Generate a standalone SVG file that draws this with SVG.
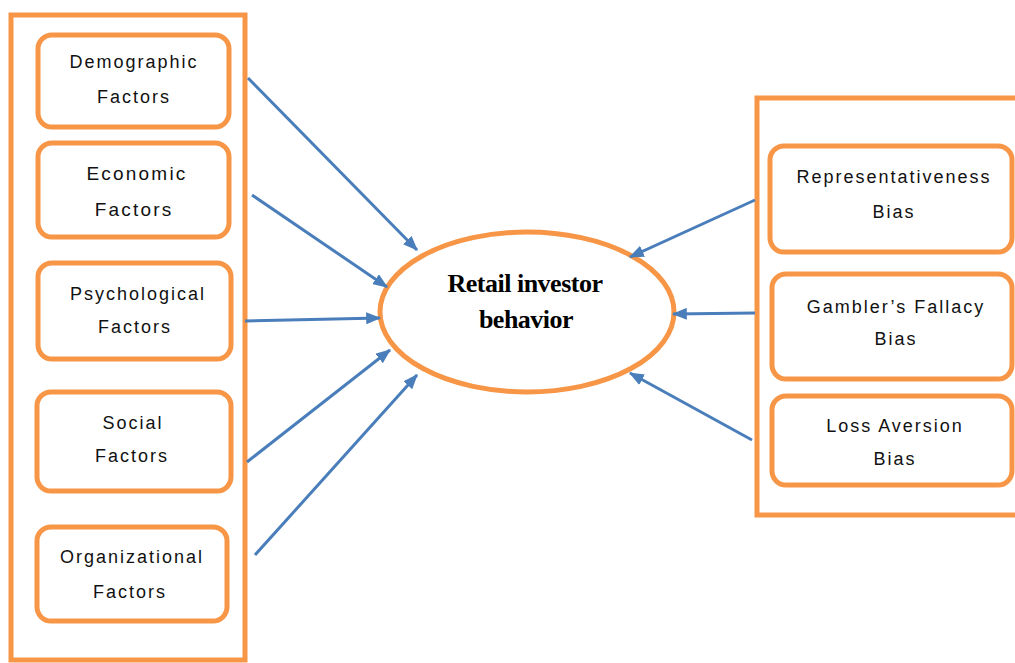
<svg xmlns="http://www.w3.org/2000/svg" width="1015" height="663" viewBox="0 0 1015 663">
<defs>
<style>
.outer{fill:#fff;stroke:#f79646;stroke-width:5}
.box{fill:#fff;stroke:#f79646;stroke-width:5}
.lbl{font-family:"Liberation Sans",Arial,sans-serif;font-size:18px;letter-spacing:2px;fill:#111;text-anchor:middle}
.ctr{font-family:"Liberation Serif","Times New Roman",serif;font-size:26px;font-weight:bold;letter-spacing:-0.5px;fill:#000;text-anchor:middle}
.arr{stroke:#4a7ebb;stroke-width:3;fill:none;marker-end:url(#ah)}
</style>
<marker id="ah" markerWidth="5" markerHeight="4" refX="4.6" refY="2" orient="auto" markerUnits="strokeWidth">
<path d="M0,0 L5,2 L0,4 z" fill="#4a7ebb"/>
</marker>
</defs>
<rect width="1015" height="663" fill="#fff"/>
<rect id="left-group" class="outer" x="11" y="15" width="234" height="645"/>
<rect id="right-group" class="outer" x="757" y="98" width="270" height="417"/>
<g id="demographic">
<rect class="box" x="38" y="35" width="191" height="92" rx="14"/>
<text class="lbl" x="134" y="68">Demographic</text>
<text class="lbl" x="134" y="103">Factors</text>
</g>
<g id="economic">
<rect class="box" x="38" y="143" width="191" height="94" rx="14"/>
<text class="lbl" x="137" y="180" style="font-size:19px;letter-spacing:2.2px">Economic</text>
<text class="lbl" x="134" y="216" style="font-size:19px;letter-spacing:2.2px">Factors</text>
</g>
<g id="psychological">
<rect class="box" x="38" y="263" width="193" height="96" rx="14"/>
<text class="lbl" x="138" y="300">Psychological</text>
<text class="lbl" x="135" y="333">Factors</text>
</g>
<g id="social">
<rect class="box" x="37" y="392" width="194" height="99" rx="14"/>
<text class="lbl" x="133" y="429">Social</text>
<text class="lbl" x="132" y="462">Factors</text>
</g>
<g id="organizational">
<rect class="box" x="37" y="527" width="190" height="94" rx="14"/>
<text class="lbl" x="132" y="563">Organizational</text>
<text class="lbl" x="130" y="598">Factors</text>
</g>
<g id="retail-investor-behavior">
<ellipse cx="527" cy="312" rx="147" ry="80" fill="#fff" stroke="#f79646" stroke-width="5"/>
<text class="ctr" x="525" y="292">Retail investor</text>
<text class="ctr" x="526" y="328">behavior</text>
</g>
<g id="representativeness">
<rect class="box" x="770" y="146" width="242" height="106" rx="14"/>
<text class="lbl" x="894" y="183">Representativeness</text>
<text class="lbl" x="894" y="218">Bias</text>
</g>
<g id="gamblers-fallacy">
<rect class="box" x="772" y="274" width="240" height="105" rx="14"/>
<text class="lbl" x="896" y="313">Gambler’s Fallacy</text>
<text class="lbl" x="896" y="345">Bias</text>
</g>
<g id="loss-aversion">
<rect class="box" x="772" y="396" width="240" height="89" rx="14"/>
<text class="lbl" x="895" y="432">Loss Aversion</text>
<text class="lbl" x="895" y="465">Bias</text>
</g>
<g id="connectors">
<line class="arr" x1="248" y1="78" x2="417" y2="250"/>
<line class="arr" x1="252" y1="195" x2="387" y2="287"/>
<line class="arr" x1="245" y1="321" x2="380" y2="318"/>
<line class="arr" x1="247" y1="462" x2="390" y2="350"/>
<line class="arr" x1="255" y1="555" x2="417" y2="375"/>
<line class="arr" x1="755" y1="200" x2="630" y2="257"/>
<line class="arr" x1="755" y1="313" x2="673" y2="314"/>
<line class="arr" x1="752" y1="440" x2="630" y2="373"/>
</g>
</svg>
